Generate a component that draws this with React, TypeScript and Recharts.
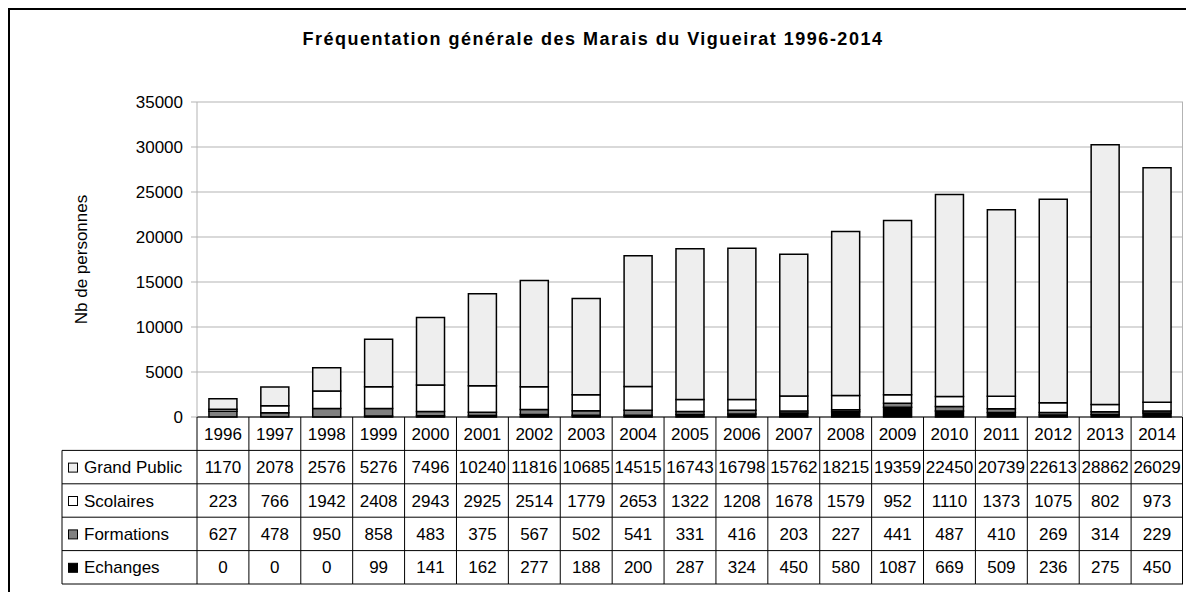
import { BarChart, Bar, XAxis, YAxis, CartesianGrid } from 'recharts';

const years = ['1996', '1997', '1998', '1999', '2000', '2001', '2002', '2003', '2004', '2005', '2006', '2007', '2008', '2009', '2010', '2011', '2012', '2013', '2014'];
const grandPublic = [1170, 2078, 2576, 5276, 7496, 10240, 11816, 10685, 14515, 16743, 16798, 15762, 18215, 19359, 22450, 20739, 22613, 28862, 26029];
const scolaires = [223, 766, 1942, 2408, 2943, 2925, 2514, 1779, 2653, 1322, 1208, 1678, 1579, 952, 1110, 1373, 1075, 802, 973];
const formations = [627, 478, 950, 858, 483, 375, 567, 502, 541, 331, 416, 203, 227, 441, 487, 410, 269, 314, 229];
const echanges = [0, 0, 0, 99, 141, 162, 277, 188, 200, 287, 324, 450, 580, 1087, 669, 509, 236, 275, 450];
const yTicks = [0, 5000, 10000, 15000, 20000, 25000, 30000, 35000];

// table rows, top of the table first
const series = [
  { key: 'grandPublic', name: 'Grand Public', color: '#eeeeee', values: grandPublic },
  { key: 'scolaires', name: 'Scolaires', color: '#ffffff', values: scolaires },
  { key: 'formations', name: 'Formations', color: '#808080', values: formations },
  { key: 'echanges', name: 'Echanges', color: '#000000', values: echanges },
];

const data = years.map((year, i) => ({
  year,
  grandPublic: grandPublic[i],
  scolaires: scolaires[i],
  formations: formations[i],
  echanges: echanges[i],
}));

const W = 1190;
const H = 600;
const margin = { top: 94, right: 15, bottom: 24, left: 60 };
const Y_AXIS_W = 129;
const X_AXIS_H = 167;
const PLOT_W = W - margin.left - Y_AXIS_W - margin.right;
const PLOT_BOTTOM = H - margin.bottom - X_AXIS_H;
const COL_W = PLOT_W / years.length;
const ROW_H = X_AXIS_H / 5;
const TABLE_LEFT = 54;
const FONT = '"Liberation Sans", Arial, sans-serif';

function TableTick(props: any) {
  const { x, index } = props;
  const left = x - COL_W / 2;
  const right = x + COL_W / 2;
  const bottom = PLOT_BOTTOM + X_AXIS_H;
  const isLast = index === years.length - 1;
  return (
    <g fontFamily={FONT} fontSize={17} fill="#000">
      <line x1={left} x2={left} y1={PLOT_BOTTOM} y2={bottom} stroke="#000" />
      {isLast && (
        <g>
          {/* right edge of the plot frame */}
          <line x1={right - 0.5} x2={right - 0.5} y1={margin.top} y2={PLOT_BOTTOM} stroke="#b3b3b3" />
          <line x1={right - 0.5} x2={right - 0.5} y1={PLOT_BOTTOM} y2={bottom} stroke="#000" />
        </g>
      )}
      {[1, 2, 3, 4, 5].map((r) => (
        <line key={r} x1={left} x2={right} y1={PLOT_BOTTOM + r * ROW_H} y2={PLOT_BOTTOM + r * ROW_H} stroke="#000" />
      ))}
      <text x={x} y={PLOT_BOTTOM + ROW_H / 2} dy="0.36em" textAnchor="middle" stroke="none">
        {years[index]}
      </text>
      {series.map((s, r) => (
        <text key={s.key} x={x} y={PLOT_BOTTOM + (r + 1.5) * ROW_H} dy="0.36em" textAnchor="middle" stroke="none">
          {s.values[index]}
        </text>
      ))}
      {index === 0 && (
        <g>
          <line x1={TABLE_LEFT} x2={TABLE_LEFT} y1={PLOT_BOTTOM + ROW_H} y2={bottom} stroke="#000" />
          {[1, 2, 3, 4, 5].map((r) => (
            <line key={r} x1={TABLE_LEFT} x2={left} y1={PLOT_BOTTOM + r * ROW_H} y2={PLOT_BOTTOM + r * ROW_H} stroke="#000" />
          ))}
          {series.map((s, r) => {
            const cy = PLOT_BOTTOM + (r + 1.5) * ROW_H;
            return (
              <g key={s.key}>
                <rect x={TABLE_LEFT + 6.5} y={cy - 4} width={9} height={9} fill={s.color} stroke="#000" />
                <text x={TABLE_LEFT + 22} y={cy} dy="0.36em" textAnchor="start" stroke="none">
                  {s.name}
                </text>
              </g>
            );
          })}
        </g>
      )}
    </g>
  );
}

export default function App() {
  return (
    <div
      style={{
        position: 'fixed',
        left: 8,
        top: 8,
        width: W,
        height: H,
        border: '2px solid #000',
        boxSizing: 'border-box',
        fontFamily: FONT,
        background: '#fff',
      }}
    >
      <div
        style={{
          position: 'absolute',
          left: 0,
          top: 20,
          width: 1166,
          textAlign: 'center',
          fontSize: 18,
          lineHeight: '18px',
          fontWeight: 'bold',
          letterSpacing: 1.5,
          zIndex: 2,
        }}
      >
        Fréquentation générale des Marais du Vigueirat 1996-2014
      </div>
      <div style={{ position: 'absolute', left: -2, top: -2 }}>
        <BarChart width={W} height={H} data={data} margin={margin} barCategoryGap="23%">
          <CartesianGrid vertical={false} stroke="#b3b3b3" />
          <XAxis
            dataKey="year"
            height={X_AXIS_H}
            interval={0}
            tickLine={false}
            axisLine={{ stroke: '#000' }}
            tick={(p: any) => <TableTick {...p} />}
          />
          <YAxis
            width={Y_AXIS_W}
            domain={[0, 35000]}
            ticks={yTicks}
            interval={0}
            axisLine={{ stroke: '#b3b3b3' }}
            tickLine={{ stroke: '#b3b3b3' }}
            tickSize={6}
            tickMargin={8}
            tick={{ fill: '#000', fontSize: 17, fontFamily: FONT }}
            label={{
              value: 'Nb de personnes',
              angle: -90,
              position: 'insideLeft',
              offset: 13,
              style: { textAnchor: 'middle', fontSize: 17, fill: '#000', fontFamily: FONT },
            }}
          />
          <Bar dataKey="echanges" stackId="a" fill="#000000" stroke="#000" strokeWidth={1.5} isAnimationActive={false} />
          <Bar dataKey="formations" stackId="a" fill="#808080" stroke="#000" strokeWidth={1.5} isAnimationActive={false} />
          <Bar dataKey="scolaires" stackId="a" fill="#ffffff" stroke="#000" strokeWidth={1.5} isAnimationActive={false} />
          <Bar dataKey="grandPublic" stackId="a" fill="#eeeeee" stroke="#000" strokeWidth={1.5} isAnimationActive={false} />
        </BarChart>
      </div>
    </div>
  );
}
